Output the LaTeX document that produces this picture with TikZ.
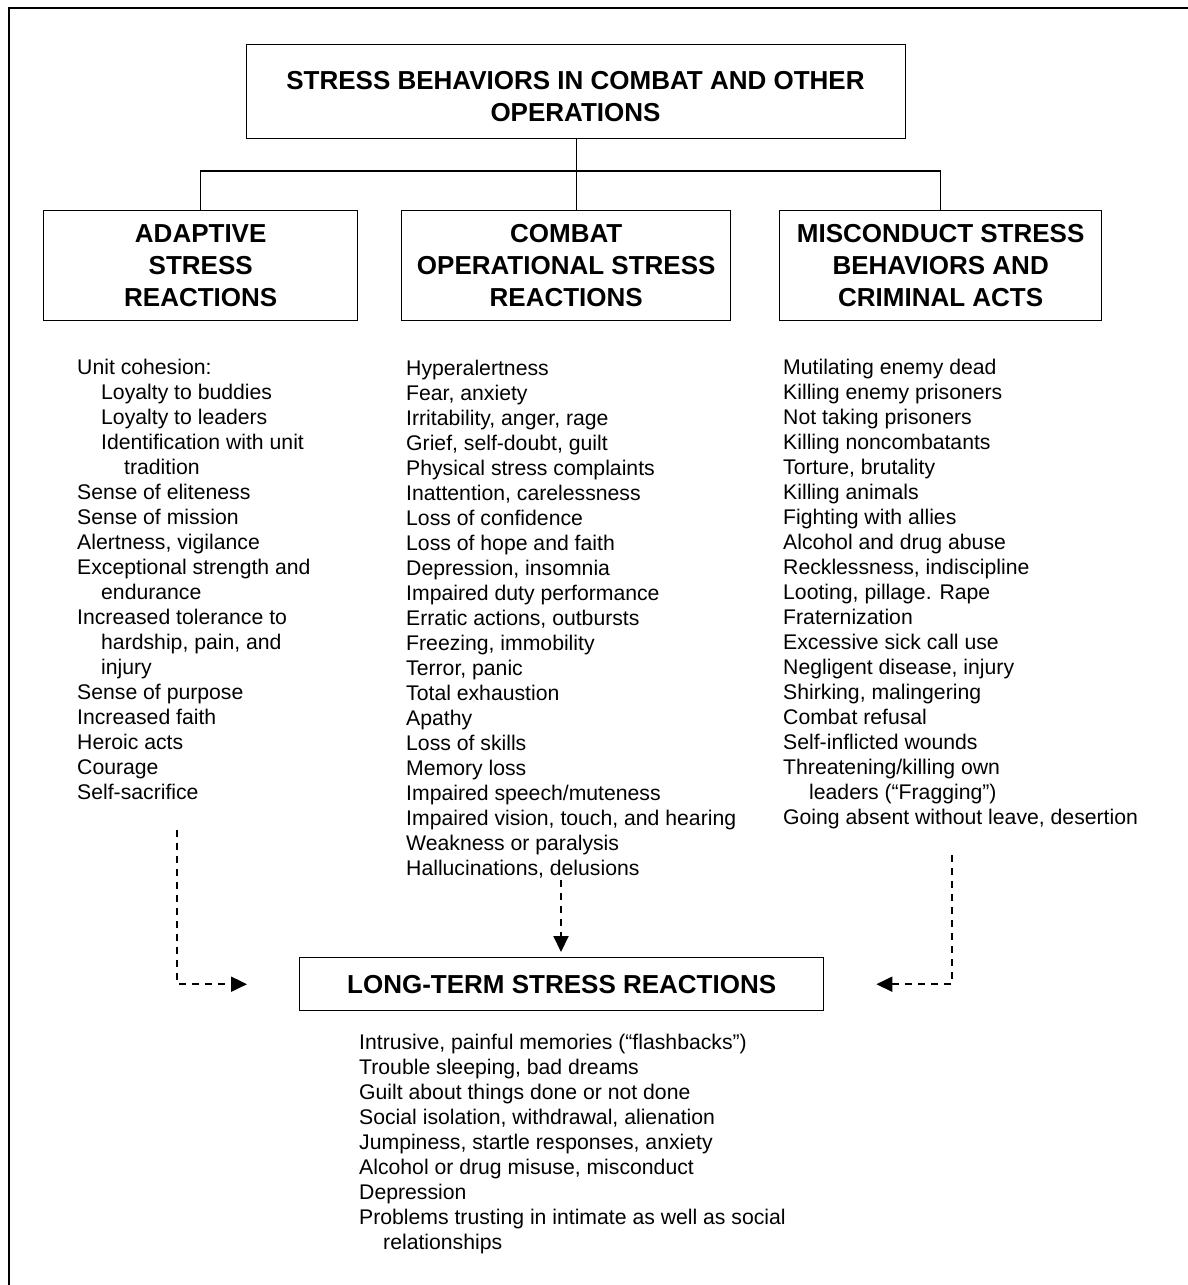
\documentclass[tikz,border=0pt]{standalone}
\usepackage{fontspec}
\setmainfont{Liberation Sans}
\usetikzlibrary{arrows.meta}
\begin{document}
\begin{tikzpicture}[x=1pt,y=-1pt,
  box/.style={draw, line width=1.4pt, inner sep=0pt},
  head/.style={font=\fontsize{26}{32}\selectfont\bfseries, align=center},
  conn/.style={line width=1.4pt},
  dashconn/.style={line width=2pt, dash pattern=on 7pt off 6pt, -{Triangle[length=16pt,width=15pt]}},
  listtxt/.style={anchor=base west, inner sep=0pt},
]
\useasboundingbox (0,0) rectangle (1188,1285);
% outer frame (only top and left edges visible)
\draw[line width=2.2pt] (9,1300) -- (9,8) -- (1200,8);

% title
\node[box, minimum width=659pt, minimum height=94pt, anchor=north west] (title) at (246,44) {};
\node[head] (titletxt) at (575.5,97) {STRESS BEHAVIORS IN COMBAT AND OTHER\\OPERATIONS};

% column headings
\node[box, head, minimum width=314pt, minimum height=110pt, anchor=north west] (adapt) at (43,210) {ADAPTIVE\\STRESS\\REACTIONS};
\node[box, head, minimum width=329pt, minimum height=110pt, anchor=north west] (comb) at (401,210) {COMBAT\\OPERATIONAL STRESS\\REACTIONS};
\node[box, head, minimum width=322pt, minimum height=110pt, anchor=north west] (misc) at (779,210) {MISCONDUCT STRESS\\BEHAVIORS AND\\CRIMINAL ACTS};

% connectors
\coordinate (hy) at (0,171);
\draw[conn] (title.south) -- (title.south |- comb.north);
\draw[conn] (adapt.north) |- (hy -| title.south) -| (misc.north);

% lists
\node[listtxt] (adaptlist) at (77,374) {\parbox[t]{320pt}{\fontsize{21.2}{25}\selectfont
Unit cohesion:\\
\hspace*{24pt}Loyalty to buddies\\
\hspace*{24pt}Loyalty to leaders\\
\hspace*{24pt}Identification with unit\\
\hspace*{47pt}tradition\\
Sense of eliteness\\
Sense of mission\\
Alertness, vigilance\\
Exceptional strength and\\
\hspace*{24pt}endurance\\
Increased tolerance to\\
\hspace*{24pt}hardship, pain, and\\
\hspace*{24pt}injury\\
Sense of purpose\\
Increased faith\\
Heroic acts\\
Courage\\
Self-sacrifice}};

\node[listtxt] (comblist) at (406,375) {\parbox[t]{360pt}{\fontsize{21.2}{25}\selectfont
Hyperalertness\\
Fear, anxiety\\
Irritability, anger, rage\\
Grief, self-doubt, guilt\\
Physical stress complaints\\
Inattention, carelessness\\
Loss of confidence\\
Loss of hope and faith\\
Depression, insomnia\\
Impaired duty performance\\
Erratic actions, outbursts\\
Freezing, immobility\\
Terror, panic\\
Total exhaustion\\
Apathy\\
Loss of skills\\
Memory loss\\
Impaired speech/muteness\\
Impaired vision, touch, and hearing\\
Weakness or paralysis\\
Hallucinations, delusions}};

\node[listtxt] (misclist) at (783,374) {\parbox[t]{390pt}{\fontsize{21.2}{25}\selectfont
Mutilating enemy dead\\
Killing enemy prisoners\\
Not taking prisoners\\
Killing noncombatants\\
Torture, brutality\\
Killing animals\\
Fighting with allies\\
Alcohol and drug abuse\\
Recklessness, indiscipline\\
Looting, pillage. Rape\\
Fraternization\\
Excessive sick call use\\
Negligent disease, injury\\
Shirking, malingering\\
Combat refusal\\
Self-inflicted wounds\\
Threatening/killing own\\
\hspace*{26pt}leaders (“Fragging”)\\
Going absent without leave, desertion}};

% long-term box
\node[box, head, minimum width=524pt, minimum height=53pt, anchor=north west] (lt) at (299,957) {LONG-TERM STRESS REACTIONS};

\node[listtxt] (ltlist) at (359,1049) {\parbox[t]{470pt}{\fontsize{21.2}{25}\selectfont
Intrusive, painful memories (“flashbacks”)\\
Trouble sleeping, bad dreams\\
Guilt about things done or not done\\
Social isolation, withdrawal, alienation\\
Jumpiness, startle responses, anxiety\\
Alcohol or drug misuse, misconduct\\
Depression\\
Problems trusting in intimate as well as social\\
\hspace*{24pt}relationships}};

% dashed arrows
\coordinate (lstart) at (177,830);
\coordinate (mstart) at (561,880);
\coordinate (rstart) at (952,855);
\draw[dashconn] (lstart) |- ([xshift=-52pt]lt.west);
\draw[dashconn, shorten >=5pt] (mstart) -- (mstart |- lt.north);
\draw[dashconn] (rstart) |- ([xshift=52pt]lt.east);
\end{tikzpicture}
\end{document}
